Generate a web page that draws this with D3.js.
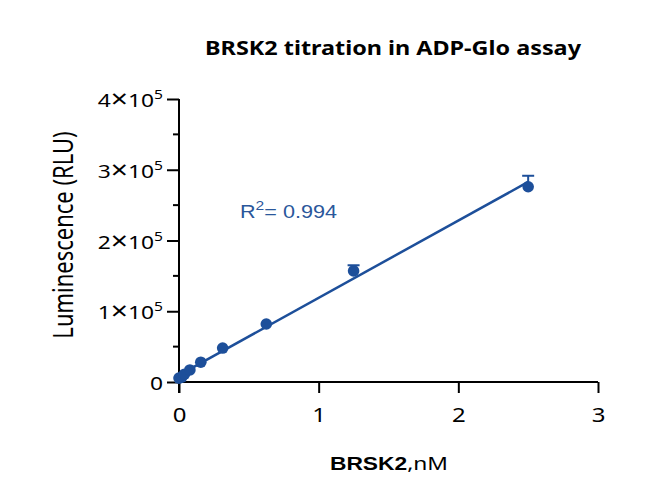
<!DOCTYPE html>
<html>
<head>
<meta charset="utf-8">
<script src="https://cdn.jsdelivr.net/npm/d3@7"></script>
<style>
  body { margin: 0; background: #fff; }
  text { font-family: "Noto Sans", sans-serif; }
</style>
</head>
<body>
<div class="chart"></div>
<script>
var margin = {top: 99, right: 61, bottom: 113, left: 179},
  width = 659 - margin.left - margin.right,
  height = 495 - margin.top - margin.bottom;

// BRSK2 concentration (nM), two-fold dilutions
const conc = [0, 0.0195, 0.039, 0.078, 0.156, 0.3125, 0.625, 1.25, 2.5];
// mean luminescence (RLU)
const rlu = [5500, 7000, 11000, 17000, 28000, 48000, 82000, 157000, 276000];
// SD (RLU)
const sd = [500, 600, 800, 1000, 1200, 1500, 2500, 8000, 15500];
const xTicks = [0, 1, 2, 3];
const yTicks = [0, 100000, 200000, 300000, 400000];
const yMinor = [50000, 150000, 250000, 350000];
const r2 = "0.994";

const blue = "#1d4f9a";
// the reference picture is a bit wider than tall, so text is stretched sideways
const sx = 1.2;

var data = conc.map((c, i) => ({x: c, y: rlu[i], sd: sd[i]}));

var svg = d3.select(".chart")
  .append("svg")
  .attr("width", 659)
  .attr("height", 495)
  .append("g")
    .attr("transform", "translate(" + margin.left + "," + margin.top + ")");

function at(px, py) { return "translate(" + px + "," + py + ") scale(" + sx + ",1)"; }

var x = d3.scaleLinear().domain([0, 3]).range([0, width]);
var y = d3.scaleLinear().domain([0, 400000]).range([height, 0]);

// title
svg.append("text")
  .attr("transform", at(214, -44))
  .attr("text-anchor", "middle")
  .style("font-size", "19.5px")
  .style("font-weight", "bold")
  .text("BRSK2 titration in ADP-Glo assay");

// y axis
var yAxis = svg.append("g")
  .call(d3.axisLeft(y).tickValues(yTicks).tickSize(12).tickFormat(""));
yAxis.select(".domain").attr("d", "M0,0V" + (height + 11));
yAxis.selectAll("line, path").attr("stroke", "#000").attr("stroke-width", 2);

svg.append("g")
  .selectAll("line")
  .data(yMinor)
  .enter()
  .append("line")
    .attr("x1", -6).attr("x2", 0)
    .attr("y1", d => y(d)).attr("y2", d => y(d))
    .attr("stroke", "#000").attr("stroke-width", 2);

// y tick labels, 4×10^5 form
var ylab = svg.append("g")
  .selectAll("text")
  .data(yTicks)
  .enter()
  .append("text")
    .attr("transform", d => at(-16, y(d) + 8))
    .attr("text-anchor", "end")
    .style("font-size", "19px");
ylab.each(function(d) {
  var t = d3.select(this);
  if (d === 0) { t.text("0"); return; }
  t.append("tspan").text(d / 100000);
  t.append("tspan").style("font-size", "25px").attr("dy", 1).text("\u00d7");
  t.append("tspan").attr("dy", -1).text("10");
  t.append("tspan").attr("dy", -8).style("font-size", "13px").text("5");
});

svg.append("text")
  .attr("transform", "translate(-106,136) scale(" + sx + ",1) rotate(-90)")
  .attr("text-anchor", "middle")
  .style("font-size", "22px")
  .text("Luminescence (RLU)");

// x axis
var xAxis = svg.append("g")
  .attr("transform", "translate(0," + height + ")")
  .call(d3.axisBottom(x).tickValues(xTicks).tickSize(11).tickFormat(d3.format("d")));
xAxis.select(".domain").attr("d", "M0,0H" + width);
xAxis.selectAll("line, path").attr("stroke", "#000").attr("stroke-width", 2);
xAxis.selectAll("text")
  .attr("y", 0)
  .attr("dy", 0)
  .attr("transform", "translate(0,40) scale(" + sx + ",1)")
  .style("font-size", "20px")
  .style("font-family", "Noto Sans")
  .attr("fill", "#000");

var xt = svg.append("text")
  .attr("transform", at(210, height + 88))
  .attr("text-anchor", "middle")
  .style("font-size", "19px");
xt.append("tspan")
  .style("font-weight", "bold")
  .style("font-family", "Liberation Sans")
  .text("BRSK2");
xt.append("tspan").text(",nM");

// linear fit
var mx = d3.mean(data, d => d.x), my = d3.mean(data, d => d.y);
var slope = d3.sum(data, d => (d.x - mx) * (d.y - my)) / d3.sum(data, d => (d.x - mx) * (d.x - mx));
var icpt = my - slope * mx;
svg.append("path")
  .attr("d", d3.line()([[x(0), y(icpt)], [x(2.5), y(icpt + slope * 2.5)]]))
  .attr("stroke", blue)
  .attr("stroke-width", 2.5)
  .attr("fill", "none");

// error bars (upper only, hidden when shorter than the symbol)
var eb = svg.append("g").selectAll("g")
  .data(data.filter(d => y(d.y) - y(d.y + d.sd) > 4))
  .enter()
  .append("g");
eb.append("line")
  .attr("x1", d => x(d.x)).attr("x2", d => x(d.x))
  .attr("y1", d => y(d.y)).attr("y2", d => y(d.y + d.sd))
  .attr("stroke", blue).attr("stroke-width", 2);
eb.append("line")
  .attr("x1", d => x(d.x) - 6).attr("x2", d => x(d.x) + 6)
  .attr("y1", d => y(d.y + d.sd)).attr("y2", d => y(d.y + d.sd))
  .attr("stroke", blue).attr("stroke-width", 2);

// points
svg.append("g")
  .selectAll("circle")
  .data(data)
  .enter()
  .append("circle")
    .attr("cx", d => x(d.x))
    .attr("cy", d => y(d.y))
    .attr("r", 5.8)
    .attr("fill", blue);

// R^2
var rt = svg.append("text")
  .attr("transform", at(61, 119))
  .attr("fill", "#2a579b")
  .style("font-family", "Liberation Sans")
  .style("font-size", "18px");
rt.append("tspan").text("R");
rt.append("tspan").attr("dy", -8).style("font-size", "13px").text("2");
rt.append("tspan").attr("dy", 8).text("= " + r2);
</script>
</body>
</html>
